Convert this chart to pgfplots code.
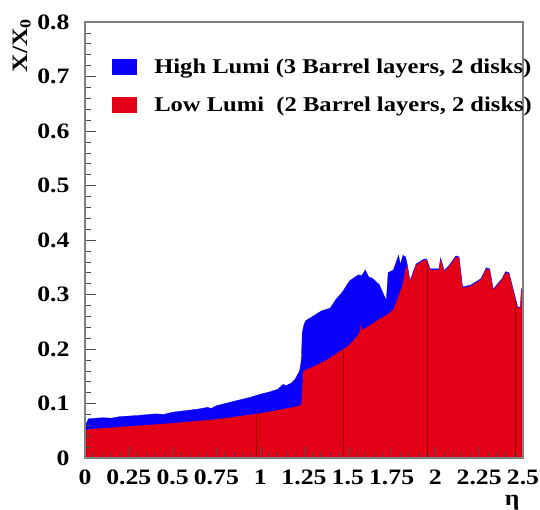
\documentclass[border=0pt]{standalone}
\usepackage{pgfplots}
\pgfplotsset{compat=1.18}
\usepackage{fontspec}
\setmainfont{Liberation Serif}[FakeStretch=1.17]
\definecolor{hblue}{RGB}{10,0,250}
\definecolor{lred}{RGB}{228,0,22}
\begin{document}
\begin{tikzpicture}
\useasboundingbox (-85pt,-51pt) rectangle (455pt,458pt);
\begin{axis}[
  at={(0,0)}, anchor=south west,
  scale only axis, width=438pt, height=436pt,
  xmin=0, xmax=2.5, ymin=0, ymax=0.8,
  xtick={0,0.25,...,2.5},
  xticklabels={0,0.25,0.5,0.75,1,1.25,1.5,1.75,2,2.25,2.5},
  ytick={0,0.1,...,0.8},
  yticklabels={0,0.1,0.2,0.3,0.4,0.5,0.6,0.7,0.8},
  minor x tick num=4, minor y tick num=4,
  tick align=inside, xtick pos=left, ytick pos=left,
  major tick length=11pt, minor tick length=6pt,
  tick style={black!70, line width=0.6pt},
  axis line style={black!50, line width=1.2pt},
  axis on top,
  /pgf/number format/assume math mode=true,
  ticklabel style={font=\fontsize{22}{26}\selectfont\bfseries},
  xticklabel style={yshift=-8pt},
  yticklabel style={xshift=-12pt},
  ylabel={X/X\textsubscript{0}},
  ylabel style={at={(axis description cs:-0.144,1.016)}, anchor=east, font=\fontsize{22}{26}\selectfont\bfseries},
  xlabel={η},
  xlabel style={at={(axis description cs:0.975,-0.102)}, anchor=center, font=\fontsize{22}{26}\selectfont\bfseries},
  legend image code/.code={\fill[#1,draw=none] (0pt,-8pt) rectangle (25pt,8pt); \path[draw=none,fill=none] (0pt,0pt) rectangle (40pt,0.1pt);},
  legend style={at={(axis description cs:0.055,0.926)}, anchor=north west, draw=none, fill=none,
    font=\fontsize{21}{25}\selectfont\bfseries, row sep=18.5pt},
  legend cell align=left,
]
\addplot[fill=hblue, draw=hblue, line width=0.3pt] coordinates {
(0,0) (0,0.05) (0.005,0.062) (0.02,0.072) (0.1,0.074) (0.15,0.073) (0.2,0.076) (0.3,0.078)
(0.4,0.081) (0.45,0.080) (0.5,0.084) (0.55,0.086) (0.6,0.088) (0.65,0.090) (0.7,0.093)
(0.72,0.091) (0.75,0.096) (0.8,0.100) (0.85,0.104) (0.9,0.108) (0.95,0.112) (1.0,0.117)
(1.05,0.121) (1.1,0.126) (1.13,0.135) (1.15,0.133) (1.18,0.138) (1.2,0.145)
(1.225,0.16) (1.235,0.18) (1.24,0.23) (1.25,0.245) (1.26,0.252) (1.31,0.262)
(1.35,0.27) (1.40,0.275) (1.43,0.29) (1.47,0.305) (1.51,0.325) (1.56,0.336)
(1.58,0.335) (1.60,0.345) (1.62,0.332) (1.64,0.33) (1.68,0.318) (1.71,0.296)
(1.72,0.29) (1.73,0.34) (1.76,0.345) (1.79,0.372) (1.80,0.355) (1.815,0.372)
(1.83,0.369) (1.84,0.354) (1.855,0.325)
(1.89,0.356) (1.935,0.365) (1.95,0.365) (1.97,0.347) (2.02,0.347) (2.03,0.367)
(2.05,0.344) (2.08,0.354) (2.117,0.371) (2.135,0.369) (2.155,0.314) (2.2,0.317)
(2.26,0.329) (2.29,0.349) (2.31,0.347) (2.33,0.310) (2.38,0.329) (2.40,0.342)
(2.42,0.340) (2.45,0.302) (2.47,0.277) (2.485,0.277) (2.49,0.307) (2.5,0.319)
(2.5,0)
} \closedcycle;
\addlegendentry{High Lumi (3 Barrel layers, 2 disks)}
\addplot[fill=lred, draw=none] coordinates {
(0,0) (0,0.04) (0.005,0.05) (0.02,0.053) (0.25,0.058) (0.5,0.064) (0.75,0.071)
(1.0,0.082) (1.1,0.088) (1.2,0.094) (1.23,0.097) (1.235,0.1) (1.245,0.158)
(1.26,0.162) (1.3,0.167) (1.38,0.18) (1.45,0.195) (1.5,0.205) (1.55,0.222)
(1.57,0.232) (1.575,0.25) (1.58,0.235) (1.61,0.24) (1.67,0.253) (1.72,0.262)
(1.76,0.272) (1.78,0.29) (1.81,0.314) (1.83,0.348) (1.84,0.352) (1.855,0.323)
(1.89,0.354) (1.935,0.363) (1.95,0.363) (1.97,0.345) (2.02,0.345) (2.03,0.365)
(2.05,0.342) (2.08,0.352) (2.117,0.369) (2.135,0.367) (2.155,0.312) (2.2,0.315)
(2.26,0.327) (2.29,0.347) (2.31,0.345) (2.33,0.308) (2.38,0.327) (2.40,0.34)
(2.42,0.338) (2.45,0.30) (2.47,0.275) (2.485,0.275) (2.49,0.305) (2.5,0.317)
(2.5,0)
} \closedcycle;
\addlegendentry{Low Lumi\ \ (2 Barrel layers, 2 disks)}
\addplot[ycomb, draw=red!60!black, line width=0.4pt, forget plot] coordinates {
(0.98,0.082) (1.474,0.20) (1.956,0.36) (2.454,0.29)};
\end{axis}
\end{tikzpicture}
\end{document}
